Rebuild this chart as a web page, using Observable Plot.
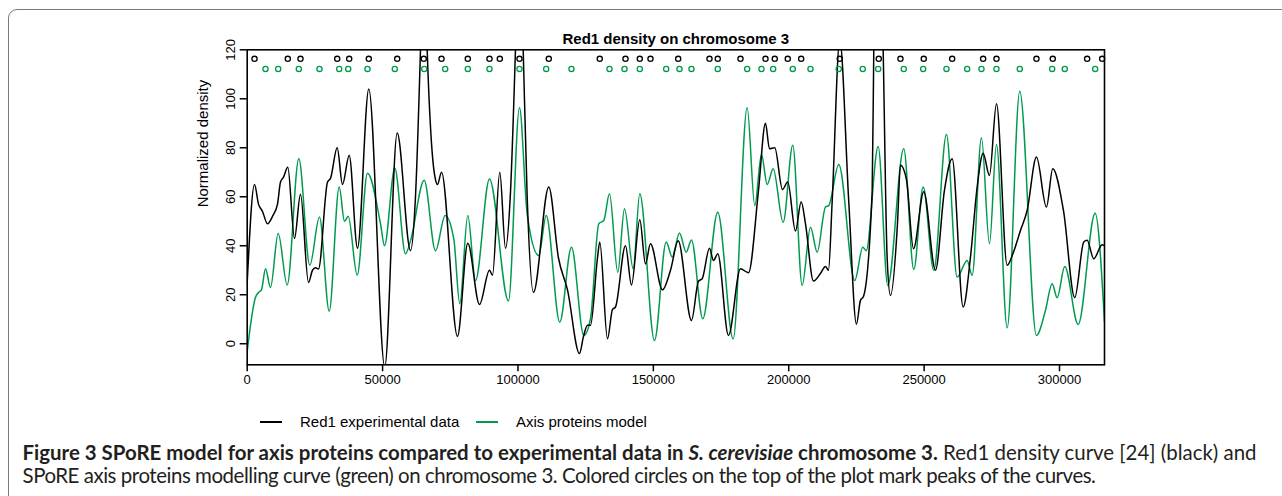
<!DOCTYPE html>
<html><head><meta charset="utf-8">
<script src="https://cdn.jsdelivr.net/npm/d3@7"></script>
<script src="https://cdn.jsdelivr.net/npm/@observablehq/plot@0.6"></script>
<style>
body{margin:0;width:1282px;height:496px;overflow:hidden;background:#fff;position:relative;font-family:"Liberation Sans",Arial,sans-serif;}
#border{position:absolute;left:8px;top:9px;width:1300px;height:520px;border:1.6px solid #7a7a7a;border-radius:9px;box-sizing:border-box;}
#chart{position:absolute;left:0;top:0;}
.ln{position:absolute;top:421px;height:1.6px;width:22px;}
.lt{position:absolute;top:413px;font-size:15px;line-height:18px;color:#000;white-space:nowrap;}
#caption{position:absolute;left:22.5px;top:440.5px;font-family:Lato,"Open Sans",sans-serif;font-size:16px;line-height:23px;color:#231f20;white-space:nowrap;}
</style></head>
<body>
<div id="border"></div>
<div id="chart"></div>
<span class="ln" style="left:260px;background:#000"></span>
<span class="lt" style="left:300px">Red1 experimental data</span>
<span class="ln" style="left:476px;background:#009a4e"></span>
<span class="lt" style="left:516px">Axis proteins model</span>
<div id="caption">
<div><span id="c1"><b>Figure 3 SPoRE model for axis proteins compared to experimental data in <i>S. cerevisiae</i> chromosome 3.</b> Red1 density curve [24] (black) and</span></div>
<div><span id="c2">SPoRE axis proteins modelling curve (green) on chromosome 3. Colored circles on the top of the plot mark peaks of the curves.</span></div>
</div>
<script>
// Red1 experimental density (position bp, normalized density)
const red1Pos = [0,2700,4170,5650,7500,9340,11190,12300,13410,14990,17470,19680,22640,24120,25220,26330,29660,30760,33240,35190,37670,40730,44910,50800,55400,60310,62150,64000,65220,66470,68320,69540,70280,71760,77660,81470,85790,89480,90590,93290,95390,97240,99080,100560,101930,103400,105730,111380,114960,118290,122720,124200,125670,126780,129370,130210,133060,134910,136010,139710,141920,144990,147090,148940,153370,156330,159170,164080,166670,168030,170730,172210,173790,177740,182180,185130,188830,191410,192890,194840,197690,199640,202490,204590,206180,209130,211720,213570,214680,216040,218850,222170,225010,226490,227600,230810,231410,233250,234870,236350,237570,240160,241260,243480,246070,249870,254190,257510,260360,264420,267120,269590,271800,274130,276720,280670,282990,285580,288050,291490,295180,297510,301460,305630,308960,310210,312650,315750,316620];
const red1Val = [25,65,57,54,49,52,57,66,68,72,43,61,25,30,31,30.5,66,67.5,80,65,77,39,104,-9.5,86,38,60,120,170,120,78,67,65,70,3,41,16,30,28,70,39,62,120,175,120,60,21,64,35,22,-4,3,7.5,7.5,35,41.5,2,14,15,40,24,50.6,32.6,40.8,22,30,42,9.5,25.5,26.5,39,34,36.7,3.4,30.6,29,62.6,90,79.6,80,63,66,46,58,49,25.6,28.7,31.5,30,58,124,58,8,17.7,19.3,62,120,200,120,35,19.7,49,73,67,38.8,62,30,62.6,75.5,15,35.4,64,77.8,68.7,98,32,37.4,46.2,54.4,76.2,55.8,71.4,54.4,18.8,41.5,42.2,34.7,40.4,40];
// Axis proteins model
const axisPos = [0,3070,4280,5280,6760,8600,11450,14770,19060,23120,26700,30280,33980,35930,37300,40620,44430,49230,50700,54510,58460,60310,65370,69540,73120,76300,78510,81470,84310,89480,96500,100560,103400,107690,110420,115440,119760,124310,126780,129850,131690,133800,136860,139340,142550,144990,150420,154740,156950,159650,162120,164080,168250,173790,179480,184650,187460,189930,192040,194250,197940,201490,204960,208030,210500,213570,214780,218480,224390,227340,228600,233030,236570,242480,246180,249650,253560,258250,262200,265900,267740,271180,274130,276720,280670,285320,291490,294810,297290,299130,301940,306890,313170,316620];
const axisVal = [-3,19,21,22,30.6,23,45,24,75.5,32,51.7,13.3,64,50,52,28,69.6,49,40,71.7,36.7,42,66.7,38,52.4,42.8,16.3,52.4,25.8,67.3,17.5,96.3,53,36,52.4,8.8,39.4,3.4,10.2,49,50.3,61.2,29.2,55.1,30.6,61.2,1.3,41.5,35.4,45.2,37.4,42.4,10.2,53.7,2,96.3,56.4,77.3,65,71.4,49.6,81,23.8,47.6,37.4,55.8,56.4,73.2,25.8,39.4,38,80.5,23.8,79.6,30.3,64,30,85.4,27.2,34,27.9,84.1,40.8,81.3,6.5,103.1,3.4,13.6,24.5,18.8,31.5,7.9,53.3,9];
// peak markers
const red1Peaks = [2700,14990,19680,33240,37670,44910,55400,65220,71760,81470,89480,93290,100560,111380,130210,139710,144990,148940,159170,170730,173790,182180,191410,194840,199640,204590,218850,233250,241260,249870,260360,271800,276720,291490,297510,310210,315750];
const axisPeaks = [6760,11450,19060,26700,33980,37300,44430,54510,65370,73120,81470,89480,100560,110420,119760,133800,139340,144990,154740,159650,164080,173790,184650,189930,194250,201490,208030,218480,227340,233030,242480,249650,258250,265900,271180,276720,285320,297290,301940,313170];
const xTicks = [0,50000,100000,150000,200000,250000,300000];
const yTicks = [0,20,40,60,80,100,120];
const chrLength = 316620;

const red1 = red1Pos.map((x,i)=>({x, y: red1Val[i]}));
const axis = axisPos.map((x,i)=>({x, y: axisVal[i]}));
const GREEN = "#009a4e";

const chart = Plot.plot({
  width:1282, height:400,
  marginLeft:246.7, marginRight:178, marginTop:49.3, marginBottom:35.7,
  style:{fontFamily:"'Liberation Sans', Arial, sans-serif", fontSize:"13px", background:"transparent", color:"#000"},
  x:{domain:[0,chrLength]},
  y:{domain:[-8.6,120]},
  marks:[
    Plot.line(axis,{x:"x",y:"y",stroke:GREEN,strokeWidth:1.5,curve:"monotone-x",clip:true}),
    Plot.line(red1,{x:"x",y:"y",stroke:"#000",strokeWidth:1.5,curve:"monotone-x",clip:true}),
    Plot.dot(red1Peaks,{x:d=>d,y:116.3,r:2.6,stroke:"#000",strokeWidth:1.3,fill:"none"}),
    Plot.dot(axisPeaks,{x:d=>d,y:112.2,r:2.6,stroke:GREEN,strokeWidth:1.3,fill:"none"}),
    Plot.frame({stroke:"#000",strokeWidth:1.6}),
    Plot.axisX(xTicks,{tickSize:7,tickPadding:3,tickFormat:d=>String(d),label:null,strokeWidth:1.5,fontSize:13}),
    Plot.axisY(yTicks,{tickSize:7,tickPadding:5,tickRotate:-90,label:null,strokeWidth:1.5,fontSize:13}),
    Plot.text(["Red1 density on chromosome 3"],{text:d=>d,frameAnchor:"top",dy:-16,fontWeight:"bold",fontSize:15}),
    Plot.text(["Normalized density"],{text:d=>d,frameAnchor:"left",dx:-43.7,rotate:-90,fontSize:15})
  ]
});
document.getElementById("chart").appendChild(chart);

// fit caption: font size from line 1 width, then line 2 tracking to its reference width
const cap = document.getElementById("caption");
const c1 = document.getElementById("c1");
const c2 = document.getElementById("c2");
const w = c1.getBoundingClientRect().width;
cap.style.fontSize = (16 * 1235 / w) + "px";
const w2 = c2.getBoundingClientRect().width;
c2.style.letterSpacing = ((1073 - w2) / c2.textContent.length) + "px";
</script>
</body></html>
